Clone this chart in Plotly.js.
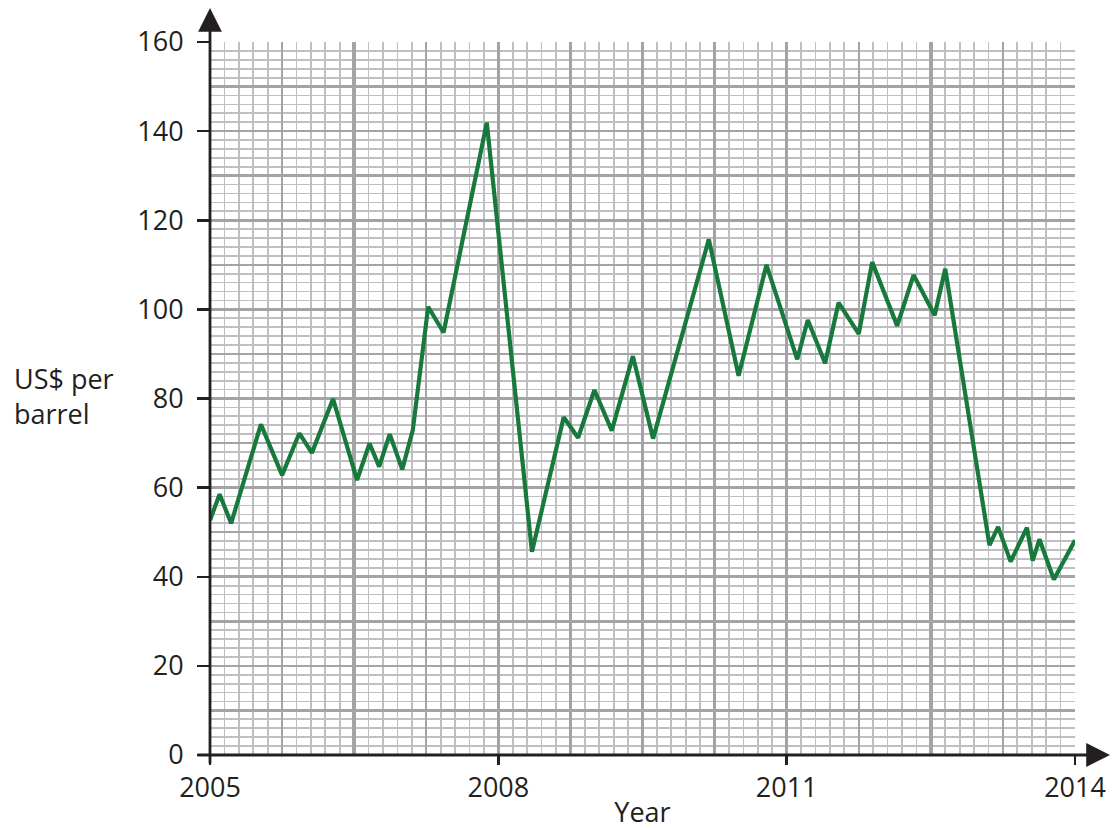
<!DOCTYPE html>
<html>
<head>
<meta charset="utf-8">
<script src="https://cdn.plot.ly/plotly-3.0.1.min.js"></script>
<style>html,body{margin:0;padding:0;background:#fff;}#chart{width:1115px;height:830px;}</style>
</head>
<body>
<div id="chart"></div>
<script>
// Oil price, US$ per barrel
const years = [2005.0, 2005.10, 2005.22, 2005.53, 2005.75, 2005.93, 2006.06, 2006.28, 2006.53, 2006.66,
  2006.76, 2006.87, 2007.00, 2007.11, 2007.27, 2007.43, 2007.88, 2008.35, 2008.68, 2008.83,
  2009.00, 2009.18, 2009.40, 2009.61, 2010.19, 2010.50, 2010.79, 2011.11, 2011.22, 2011.40,
  2011.54, 2011.75, 2011.89, 2012.15, 2012.32, 2012.54, 2012.65, 2013.11, 2013.20, 2013.33,
  2013.50, 2013.56, 2013.63, 2013.78, 2014.0];
const prices = [52.7, 58.5, 52.0, 74.2, 62.8, 72.2, 67.8, 79.9, 61.7, 69.9,
  64.7, 72.0, 64.1, 72.9, 100.6, 94.8, 141.9, 45.6, 75.8, 71.2,
  81.9, 72.8, 89.5, 71.0, 115.7, 85.1, 110.0, 88.8, 97.6, 87.9,
  101.5, 94.5, 110.6, 96.3, 107.7, 98.7, 109.1, 47.1, 51.2, 43.4,
  51.0, 43.6, 48.4, 39.4, 48.2];
const xTickVals = [2005, 2008, 2011, 2014];
const xTickText = ['2005', '2008', '2011', '2014'];
const yTickVals = [0, 20, 40, 60, 80, 100, 120, 140, 160];
const xLabel = 'Year';
const yLabel = 'US$ per<br>barrel';

const FONT = '"Open Sans", "Noto Sans", sans-serif';
const xRange = [2005, 2014];
const yRange = [0, 160];
const majorGrid = '#a4a4a7';
const minorGrid = '#bfbfc2';

const dummy = (xa, ya) => ({x: [years[0]], y: [prices[0]], xaxis: xa, yaxis: ya, mode: 'lines',
  line: {width: 0}, hoverinfo: 'skip', showlegend: false});

const data = [
  dummy('x2', 'y'),
  dummy('x3', 'y'),
  dummy('x', 'y2'),
  {x: years, y: prices, xaxis: 'x', yaxis: 'y', mode: 'lines',
   line: {color: '#18793c', width: 4.2}, showlegend: false, hoverinfo: 'x+y'}
];

const hiddenAx = {showticklabels: false, ticks: '', showline: false, zeroline: false, fixedrange: true};

const layout = {
  width: 1115, height: 830,
  margin: {l: 210, r: 40, t: 42, b: 75},
  paper_bgcolor: '#ffffff', plot_bgcolor: '#ffffff',
  font: {family: FONT, size: 27, color: '#231f20'},
  showlegend: false,
  xaxis: {
    range: xRange, tickmode: 'array', tickvals: xTickVals, ticktext: xTickText,
    ticks: 'outside', ticklen: 9, tickwidth: 2.5, tickcolor: '#231f20',
    showgrid: false, zeroline: false, showline: false, fixedrange: true,
    tickfont: {family: FONT, size: 27, color: '#231f20'},
    title: {text: xLabel, standoff: 0, font: {family: FONT, size: 27, color: '#231f20'}}
  },
  xaxis2: Object.assign({overlaying: 'x', range: xRange, tick0: 2005, dtick: 0.75,
    showgrid: true, gridcolor: majorGrid, gridwidth: 2.4,
    minor: {tick0: 2005, dtick: 0.15, showgrid: true, gridcolor: minorGrid, gridwidth: 1.7}}, hiddenAx),
  xaxis3: Object.assign({overlaying: 'x', range: xRange, tick0: 2005, dtick: 1.5,
    showgrid: true, gridcolor: majorGrid, gridwidth: 3.6}, hiddenAx),
  yaxis: {
    range: yRange, tickmode: 'array', tickvals: yTickVals,
    ticks: 'outside', ticklen: 12, tickwidth: 2.5, tickcolor: '#231f20', ticklabelstandoff: 8,
    showgrid: true, gridcolor: majorGrid, gridwidth: 2.6,
    minor: {tick0: 0, dtick: 2, showgrid: true, gridcolor: minorGrid, gridwidth: 1.7},
    zeroline: false, showline: false, fixedrange: true,
    tickfont: {family: FONT, size: 27, color: '#231f20'}
  },
  yaxis2: Object.assign({overlaying: 'y', range: yRange, tick0: 0, dtick: 10,
    showgrid: true, gridcolor: majorGrid, gridwidth: 2.4}, hiddenAx),
  annotations: [
    // y axis line with arrow
    {xref: 'paper', yref: 'paper', x: 0, y: 1 + 34 / 713, ax: 0, ay: 757, axref: 'pixel', ayref: 'pixel',
     text: '', showarrow: true, arrowhead: 2, arrowsize: 1.7, arrowwidth: 2.8, arrowcolor: '#231f20', standoff: 0, startstandoff: 0},
    // x axis line with arrow
    {xref: 'paper', yref: 'paper', x: 1 + 35 / 865, y: 0, ax: -914, ay: 0, axref: 'pixel', ayref: 'pixel',
     text: '', showarrow: true, arrowhead: 2, arrowsize: 1.7, arrowwidth: 2.8, arrowcolor: '#231f20', standoff: 0, startstandoff: 0},
    // y label
    {xref: 'paper', yref: 'paper', x: (12 - 210) / 865, y: (755 - 396) / 713, xanchor: 'left', yanchor: 'middle',
     align: 'left', text: yLabel, showarrow: false, font: {family: FONT, size: 27, color: '#231f20'}}
  ]
};

Plotly.newPlot('chart', data, layout, {staticPlot: true, displayModeBar: false});
</script>
</body>
</html>
